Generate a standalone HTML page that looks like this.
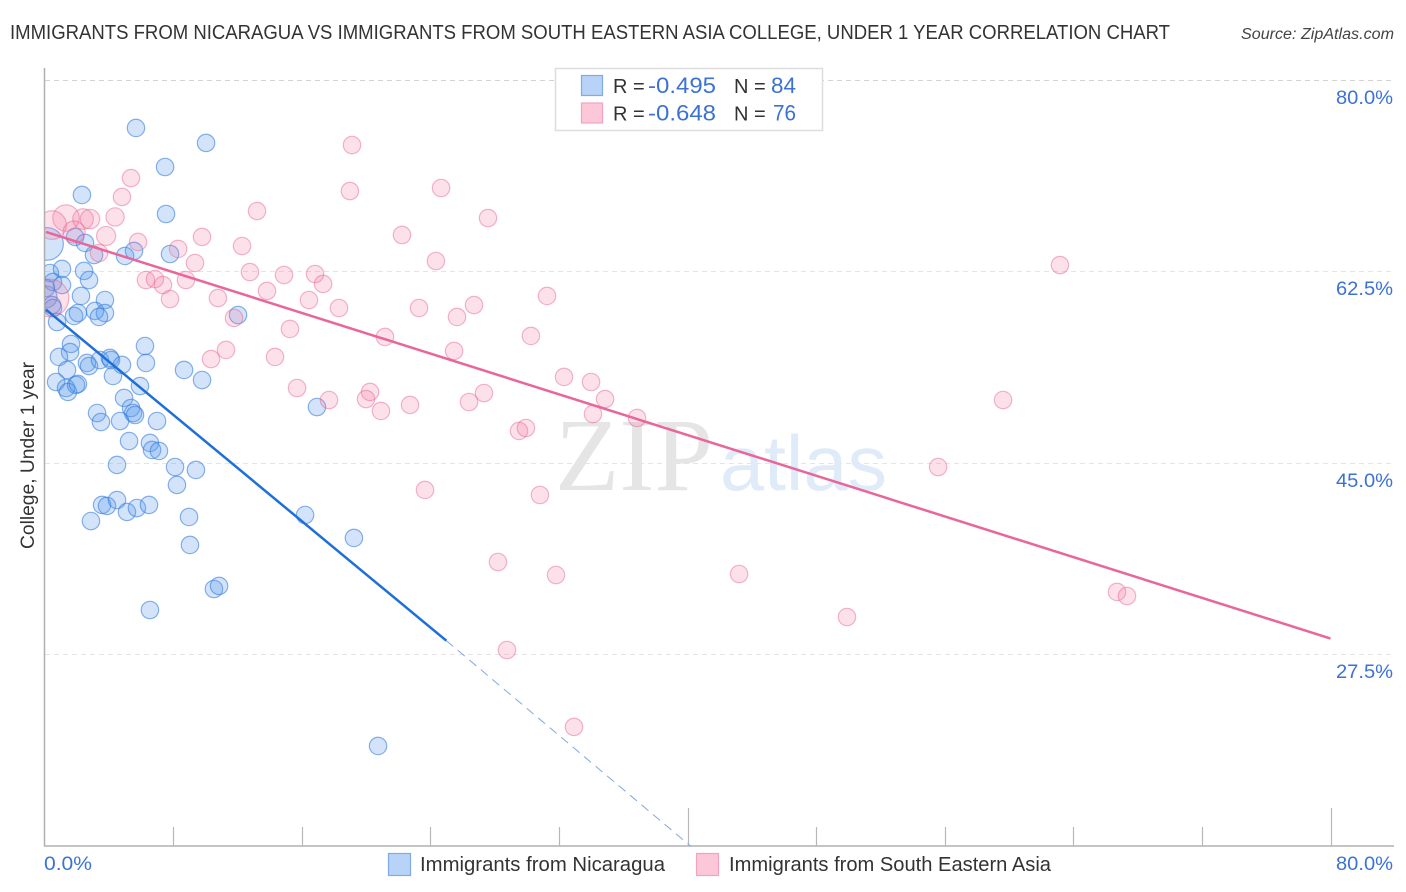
<!DOCTYPE html>
<html lang="en">
<head>
<meta charset="utf-8">
<title>Immigrants from Nicaragua vs Immigrants from South Eastern Asia College, Under 1 Year Correlation Chart</title>
<style>
html,body{margin:0;padding:0;background:#fff;}
svg{display:block;}
text{font-family:"Liberation Sans",Arial,sans-serif;}
</style>
</head>
<body>
<svg id="chart" xmlns="http://www.w3.org/2000/svg" width="1406" height="892" viewBox="0 0 1406 892">
  <defs>
    <clipPath id="plot-clip"><rect x="45" y="60" width="1349" height="786"/></clipPath>
  </defs>
  <text x="10" y="39" font-size="20" fill="#333" textLength="1160" lengthAdjust="spacingAndGlyphs">IMMIGRANTS FROM NICARAGUA VS IMMIGRANTS FROM SOUTH EASTERN ASIA COLLEGE, UNDER 1 YEAR CORRELATION CHART</text>
  <text x="1394" y="39" font-size="15.5" font-style="italic" fill="#444" text-anchor="end" textLength="153" lengthAdjust="spacingAndGlyphs">Source: ZipAtlas.com</text>

  <g id="grid"></g>

  <g>
    <text x="555" y="490" font-size="104" fill="#e5e5e5" textLength="158" lengthAdjust="spacingAndGlyphs" style="font-family:'Liberation Serif',serif">ZIP</text>
    <text x="720" y="490" font-size="78" fill="#e0ebfa" textLength="167" lengthAdjust="spacingAndGlyphs">atlas</text>
  </g>

  <g id="axes"></g>
  <g id="points" clip-path="url(#plot-clip)"></g>
  <g id="trends"></g>
  <g id="labels"></g>

  <text transform="translate(34,549) rotate(-90)" font-size="19" fill="#333" textLength="187" lengthAdjust="spacingAndGlyphs">College, Under 1 year</text>

  <g>
    <rect x="555.5" y="68.5" width="267" height="62" fill="#fff" stroke="#ddd" stroke-width="1.5"/>
    <rect x="581.5" y="75.5" width="21" height="20" fill="#b8d3f7" stroke="#7fabe6" stroke-width="1.2"/>
    <rect x="581.5" y="103" width="21" height="20" fill="#fcc8d9" stroke="#f2a3bd" stroke-width="1.2"/>
    <text x="613" y="93" font-size="20" fill="#333">R =</text>
    <text x="648" y="93" font-size="22" fill="#3b72d4" textLength="68" lengthAdjust="spacingAndGlyphs">-0.495</text>
    <text x="734" y="93" font-size="20" fill="#333">N =</text>
    <text x="771" y="93" font-size="22" fill="#3b72d4" textLength="25" lengthAdjust="spacingAndGlyphs">84</text>
    <text x="613" y="120.5" font-size="20" fill="#333">R =</text>
    <text x="648" y="120.5" font-size="22" fill="#3b72d4" textLength="68" lengthAdjust="spacingAndGlyphs">-0.648</text>
    <text x="734" y="120.5" font-size="20" fill="#333">N =</text>
    <text x="773" y="120.5" font-size="22" fill="#3b72d4" textLength="23" lengthAdjust="spacingAndGlyphs">76</text>
  </g>

  <g>
    <rect x="388.5" y="853.5" width="22" height="22" fill="#b8d3f7" stroke="#7fabe6" stroke-width="1.2"/>
    <text x="420" y="871" font-size="20" fill="#333" textLength="245" lengthAdjust="spacingAndGlyphs">Immigrants from Nicaragua</text>
    <rect x="696.5" y="853.5" width="22" height="22" fill="#fcc8d9" stroke="#f2a3bd" stroke-width="1.2"/>
    <text x="729" y="871" font-size="20" fill="#333" textLength="322" lengthAdjust="spacingAndGlyphs">Immigrants from South Eastern Asia</text>
  </g>
</svg>

<script>
var xTickValues = [0, 8, 16, 24, 32, 40, 48, 56, 64, 72, 80];
var xLongTicks = [40, 80];
var yTickValues = [80, 62.5, 45, 27.5];
var yTickLabels = ['80.0%', '62.5%', '45.0%', '27.5%'];
var xEndLabels = ['0.0%', '80.0%'];

var nicaraguaX = [0.16,0.09,5.69,10.05,7.50,2.33,7.56,1.90,2.52,3.08,5.01,5.57,7.81,0.34,1.09,2.46,2.77,0.53,1.09,2.27,3.76,0.47,0.53,1.84,2.08,3.14,3.76,3.39,0.78,12.04,1.65,6.25,1.59,0.90,6.31,2.64,2.77,3.45,4.07,4.14,4.82,4.26,1.40,8.68,9.80,0.72,1.34,1.46,1.96,2.08,5.94,4.95,5.38,5.51,5.63,3.27,3.51,4.70,7.00,5.26,6.56,6.69,7.12,4.51,8.12,9.42,8.24,3.58,3.89,4.51,5.13,5.75,6.50,2.89,8.99,9.05,10.54,10.86,6.56,16.21,19.25,20.75,16.95,0.09];
var nicaraguaY = [65.00,60.15,75.61,74.24,72.04,69.48,67.74,65.64,65.09,63.99,63.90,64.36,64.08,62.34,62.71,62.53,61.70,61.52,61.24,60.24,59.87,59.41,59.14,58.41,58.68,58.87,58.68,58.32,57.86,58.50,55.85,55.66,55.11,54.66,54.11,54.11,53.83,54.38,54.57,54.38,53.93,52.92,53.47,53.47,52.55,52.37,51.82,51.46,52.10,52.19,52.00,50.91,49.99,49.53,49.35,49.53,48.71,48.80,48.80,46.97,46.79,46.15,46.06,44.78,44.59,44.32,42.95,41.12,41.03,41.57,40.48,40.84,41.12,39.65,40.02,37.46,33.43,33.71,31.51,40.20,38.10,19.07,50.08,60.97];
var nicaraguaWeights = [3.5, 1.6];

var seAsiaX = [1.34,0.47,2.40,2.83,4.39,1.84,3.83,5.82,3.39,0.34,5.38,4.82,6.31,6.87,7.37,7.81,8.80,9.36,8.31,9.80,10.79,12.29,12.78,13.22,13.84,14.90,16.83,17.33,16.45,18.32,19.13,19.00,22.24,11.79,15.27,21.18,11.29,10.36,14.34,23.30,25.66,26.72,31.26,30.26,25.48,15.71,17.70,20.25,20.00,20.93,22.74,26.41,27.34,32.32,34.00,34.87,34.12,36.86,29.52,29.95,23.67,30.82,28.21,31.82,28.77,32.94,43.21,49.92,66.72,67.34,59.63,55.59,63.17,24.67,27.59,24.35];
var seAsiaY = [67.37,66.73,67.28,67.28,67.47,66.09,65.73,65.18,64.17,60.05,71.03,69.30,61.70,61.79,61.24,59.96,61.70,63.26,64.54,65.64,60.05,64.81,62.43,68.01,60.70,62.16,62.25,61.34,59.87,59.14,74.05,69.84,65.82,58.23,57.22,56.49,55.30,54.47,54.66,59.14,58.32,59.41,60.24,56.58,55.21,51.82,50.72,51.46,50.81,49.72,50.27,50.54,51.36,52.83,52.37,50.81,49.44,49.08,47.89,48.16,42.49,42.03,35.90,34.71,27.85,20.81,34.80,30.87,33.16,32.79,50.72,44.59,63.07,70.12,67.37,63.44];
var seAsiaWeights = [2.3, 2.7, 1.4, 1.25, 1.1, 1.6, 1.2, 1, 1, 4.7];

var nicaraguaTrendX = [0.09, 25.0];
var nicaraguaTrendY = [59.0, 28.7];
var nicaraguaExtrapolationX = [25.0, 40.2];
var nicaraguaExtrapolationY = [28.7, 9.9];
var seAsiaTrendX = [0.09, 80];
var seAsiaTrendY = [66.1, 28.9];

var NS = 'http://www.w3.org/2000/svg';
function xScale(v) { return 44.5 + v * 16.075; }
function yScale(v) { return 80 + (80 - v) * 10.93; }
function make(tag, attrs, parent, text) {
  var el = document.createElementNS(NS, tag);
  for (var k in attrs) el.setAttribute(k, attrs[k]);
  if (text !== undefined) el.textContent = text;
  parent.appendChild(el);
  return el;
}

var grid = document.getElementById('grid');
var axes = document.getElementById('axes');
var points = document.getElementById('points');
var trends = document.getElementById('trends');
var labels = document.getElementById('labels');
var axisBottom = 846;

yTickValues.forEach(function (v, i) {
  var y = Math.round(yScale(v)) + 0.5;
  var line = make('line', {x1: 45, x2: 1394, y1: y, y2: y, stroke: i === 0 ? '#d2d2d2' : '#e4e4e4', 'stroke-width': 1, 'stroke-dasharray': '5 4'}, grid);
  
  
  var lab = make('text', {x: 1393, y: Math.round(yScale(v)) + 24, 'text-anchor': 'end', 'font-size': 19.5, fill: '#3b72d4', textLength: 57, lengthAdjust: 'spacingAndGlyphs'}, labels, yTickLabels[i]);
  
  
});

var yAxis = make('line', {x1: 44.5, x2: 44.5, y1: 68, y2: axisBottom + 0.5, stroke: '#b0b0b0', 'stroke-width': 1.5}, axes);


var xAxis = make('line', {x1: 44, x2: 1394, y1: axisBottom, y2: axisBottom, stroke: '#b0b0b0', 'stroke-width': 1.5}, axes);



xTickValues.forEach(function (v) {
  if (v === 0) return;
  var x = Math.round(xScale(v)) + 0.5;
  var top = xLongTicks.indexOf(v) >= 0 ? 808 : 827;
  var tick = make('line', {x1: x, x2: x, y1: top, y2: axisBottom, stroke: '#b8b8b8', 'stroke-width': 1.2}, axes);
  
  
});

var xStart = make('text', {x: 44, y: 870, 'font-size': 19.5, fill: '#3b72d4', textLength: 48, lengthAdjust: 'spacingAndGlyphs'}, labels, xEndLabels[0]);


var xEnd = make('text', {x: 1393, y: 870, 'text-anchor': 'end', 'font-size': 19.5, fill: '#3b72d4', textLength: 57, lengthAdjust: 'spacingAndGlyphs'}, labels, xEndLabels[1]);



function bubbleRadius(w) { return 8.7 * Math.sqrt(w); }

nicaraguaX.forEach(function (v, i) {
  var c = make('circle', {cx: xScale(v), cy: yScale(nicaraguaY[i]), r: bubbleRadius(nicaraguaWeights[i] || 1), fill: 'rgba(84,150,236,0.26)', stroke: 'rgba(52,124,220,0.58)', 'stroke-width': 1.2}, points);
  
  
});

seAsiaX.forEach(function (v, i) {
  var c = make('circle', {cx: xScale(v), cy: yScale(seAsiaY[i]), r: bubbleRadius(seAsiaWeights[i] || 1), fill: 'rgba(240,118,160,0.22)', stroke: 'rgba(232,96,142,0.46)', 'stroke-width': 1.2}, points);
  
  
});

var blueTrend = make('line', {x1: xScale(nicaraguaTrendX[0]), y1: yScale(nicaraguaTrendY[0]), x2: xScale(nicaraguaTrendX[1]), y2: yScale(nicaraguaTrendY[1]), stroke: '#1f6fd8', 'stroke-width': 2.5}, trends);


var blueDash = make('line', {x1: xScale(nicaraguaExtrapolationX[0]), y1: yScale(nicaraguaExtrapolationY[0]), x2: xScale(nicaraguaExtrapolationX[1]), y2: yScale(nicaraguaExtrapolationY[1]), stroke: '#7fa8e4', 'stroke-width': 1, 'stroke-dasharray': '9 6'}, trends);


var pinkTrend = make('line', {x1: xScale(seAsiaTrendX[0]), y1: yScale(seAsiaTrendY[0]), x2: xScale(seAsiaTrendX[1]), y2: yScale(seAsiaTrendY[1]), stroke: '#e8669a', 'stroke-width': 2.5}, trends);


</script>
</body>
</html>
